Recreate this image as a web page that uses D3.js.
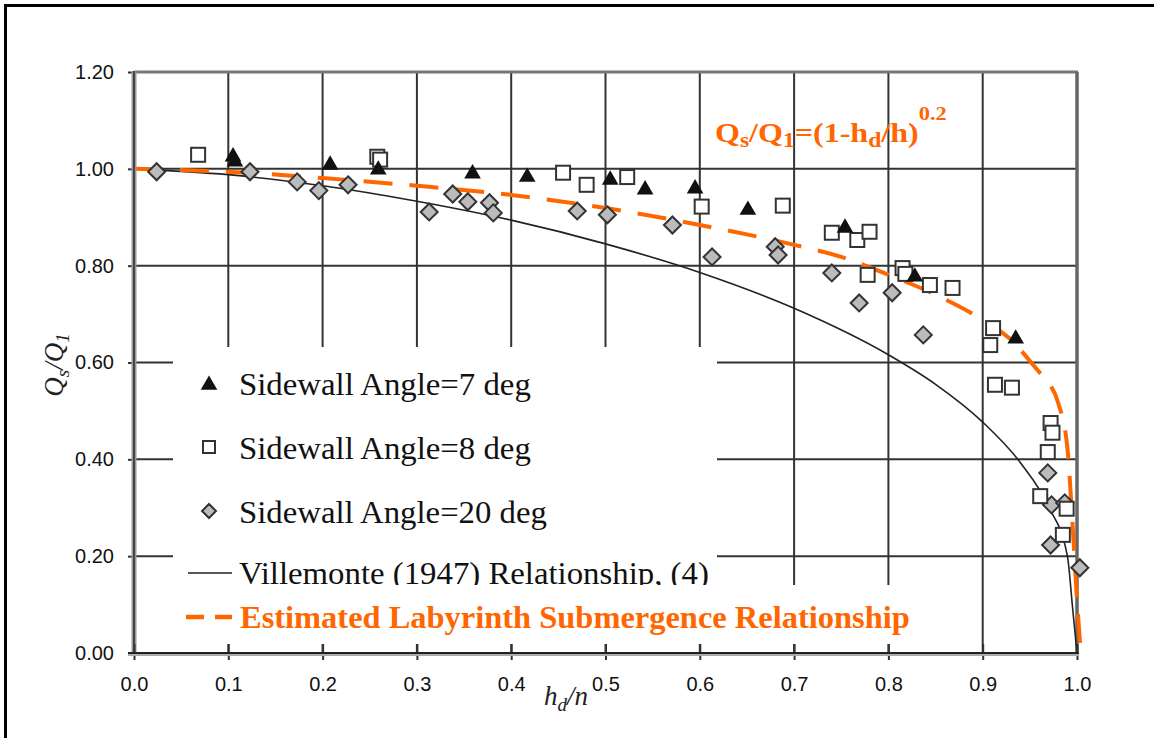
<!DOCTYPE html>
<html><head><meta charset="utf-8">
<script src="https://cdn.jsdelivr.net/npm/d3@7"></script>
<style>body{margin:0;background:#fff}svg{display:block}</style>
</head><body>
<svg id="c" width="1154" height="738"></svg>
<script>
// ---- data ----
const xTicks = [0, 0.1, 0.2, 0.3, 0.4, 0.5, 0.6, 0.7, 0.8, 0.9, 1.0];
const xTickLabels = ["0.0","0.1","0.2","0.3","0.4","0.5","0.6","0.7","0.8","0.9","1.0"];
const yTicks = [0, 0.2, 0.4, 0.6, 0.8, 1.0, 1.2];
const yTickLabels = ["0.00","0.20","0.40","0.60","0.80","1.00","1.20"];

const angle7X = [0.105, 0.107, 0.208, 0.259, 0.359, 0.417, 0.505, 0.542, 0.595, 0.651, 0.754, 0.828, 0.935];
const angle7Y = [1.025, 1.015, 1.008, 0.998, 0.990, 0.983, 0.977, 0.957, 0.959, 0.915, 0.878, 0.777, 0.649];

const angle8X = [0.068, 0.258, 0.261, 0.455, 0.480, 0.523, 0.602, 0.688, 0.740, 0.767, 0.780, 0.778, 0.815, 0.818, 0.844, 0.868, 0.911, 0.908, 0.913, 0.931, 0.972, 0.974, 0.969, 0.961, 0.989, 0.985];
const angle8Y = [1.029, 1.025, 1.019, 0.992, 0.967, 0.983, 0.922, 0.924, 0.868, 0.853, 0.870, 0.781, 0.795, 0.783, 0.760, 0.754, 0.671, 0.636, 0.554, 0.548, 0.475, 0.455, 0.415, 0.324, 0.298, 0.244];

const angle20X = [0.024, 0.123, 0.173, 0.196, 0.227, 0.313, 0.338, 0.354, 0.377, 0.381, 0.470, 0.502, 0.571, 0.613, 0.680, 0.683, 0.740, 0.769, 0.804, 0.837, 0.969, 0.973, 0.987, 0.972, 1.003];
const angle20Y = [0.994, 0.994, 0.973, 0.955, 0.967, 0.911, 0.948, 0.932, 0.930, 0.909, 0.913, 0.905, 0.884, 0.818, 0.839, 0.822, 0.785, 0.723, 0.744, 0.657, 0.372, 0.306, 0.310, 0.223, 0.176];

const villeX = [0, 0.1, 0.2, 0.3, 0.4, 0.5, 0.6, 0.7, 0.8, 0.85, 0.9, 0.94, 0.97, 0.99, 0.995, 1.0];
const villeY = [1.0, 0.988, 0.965, 0.933, 0.894, 0.845, 0.786, 0.712, 0.616, 0.555, 0.477, 0.393, 0.302, 0.198, 0.100, 0.0];

const estX = [0, 0.1, 0.2, 0.3, 0.4, 0.5, 0.6, 0.7, 0.75, 0.8, 0.85, 0.9, 0.93, 0.96, 0.97, 0.98, 0.99, 0.995, 1.0, 1.004];
const estY = [1.0, 0.994, 0.981, 0.965, 0.946, 0.919, 0.884, 0.843, 0.818, 0.781, 0.740, 0.688, 0.647, 0.580, 0.558, 0.517, 0.420, 0.275, 0.110, 0.0];

const legendLabels = ["Sidewall Angle=7 deg", "Sidewall Angle=8 deg", "Sidewall Angle=20 deg", "Villemonte (1947) Relationship, (4)"];
const estLabel = "Estimated Labyrinth Submergence Relationship";

// ---- drawing ----
const ORANGE = "#ff6600";
const svg = d3.select("#c");
const x = d3.scaleLinear([0, 1], [134, 1077]);
const y = d3.scaleLinear([0, 1.2], [653, 72]);
const zip = (a, b) => a.map((v, i) => [v, b[i]]);

function fit(sel, x0, x1) {
  const w = sel.node().getComputedTextLength();
  const s = (x1 - x0) / w;
  sel.attr("transform", `translate(${x0},0) scale(${s},1) translate(${-x0},0)`);
}

// outer frame
svg.append("line").attr("x1", 5.5).attr("x2", 5.5).attr("y1", 4).attr("y2", 738).attr("stroke", "#000").attr("stroke-width", 3);
svg.append("line").attr("x1", 4).attr("x2", 1154).attr("y1", 5.5).attr("y2", 5.5).attr("stroke", "#000").attr("stroke-width", 3);

// gridlines
const grid = svg.append("g");
grid.selectAll("line.v").data(xTicks.slice(1, -1)).join("line")
  .attr("x1", d => x(d)).attr("x2", d => x(d)).attr("y1", y(1.2)).attr("y2", y(0))
  .attr("stroke", "#333").attr("stroke-width", 2);
grid.selectAll("line.h").data(yTicks.slice(1, -1)).join("line")
  .attr("x1", x(0)).attr("x2", x(1)).attr("y1", d => y(d)).attr("y2", d => y(d))
  .attr("stroke", "#333").attr("stroke-width", 2);
// plot frame top/right
svg.append("line").attr("x1", x(0)).attr("x2", x(1) + 1).attr("y1", y(1.2)).attr("y2", y(1.2)).attr("stroke", "#777").attr("stroke-width", 3);
svg.append("line").attr("x1", x(1)).attr("x2", x(1)).attr("y1", y(1.2)).attr("y2", y(0)).attr("stroke", "#666").attr("stroke-width", 3.5);

// curves
const line = d3.line().x(d => x(d[0])).y(d => y(d[1])).curve(d3.curveMonotoneX);
svg.append("path").attr("d", line(zip(villeX, villeY))).attr("fill", "none").attr("stroke", "#222").attr("stroke-width", 1.6);
svg.append("path").attr("d", line(zip(estX, estY))).attr("fill", "none").attr("stroke", ORANGE).attr("stroke-width", 4).attr("stroke-dasharray", "29,17");

// markers
const tri = d3.symbol().type(d3.symbolTriangle).size(120);
const sq = (g, cx, cy, s) => g.append("rect").attr("x", cx - s / 2).attr("y", cy - s / 2).attr("width", s).attr("height", s).attr("fill", "#fff").attr("stroke", "#333").attr("stroke-width", 2);
const dia = (g, cx, cy, s) => g.append("path").attr("d", `M${cx},${cy - s}L${cx + s},${cy}L${cx},${cy + s}L${cx - s},${cy}Z`).attr("fill", "#bbb").attr("stroke", "#333").attr("stroke-width", 2);

const pts = svg.append("g");
zip(angle20X, angle20Y).forEach(d => dia(pts, x(d[0]), y(d[1]), 8.5));
zip(angle8X, angle8Y).forEach(d => sq(pts, x(d[0]), y(d[1]), 14));
pts.selectAll("path.t").data(zip(angle7X, angle7Y)).join("path")
  .attr("d", tri).attr("transform", d => `translate(${x(d[0])},${y(d[1])})`).attr("fill", "#111");

// legend boxes
svg.append("rect").attr("x", 173).attr("y", 347).attr("width", 544).attr("height", 238).attr("fill", "#fff");

const lg = svg.append("g").attr("font-family", "'Liberation Serif', 'Times New Roman', serif").attr("font-size", 31).attr("fill", "#111");
const rowBase = [395, 459, 523, 584];
lg.append("path").attr("d", tri).attr("transform", `translate(209,385)`).attr("fill", "#111");
sq(lg, 209, 447, 12);
dia(lg, 209, 511, 7);
lg.append("line").attr("x1", 188).attr("x2", 232).attr("y1", 573).attr("y2", 573).attr("stroke", "#222").attr("stroke-width", 1.6);
const legEnds = [531, 531, 547, 709];
legendLabels.forEach((t, i) => {
  const tx = lg.append("text").attr("x", 239).attr("y", rowBase[i]).text(t);
  fit(tx, 239, legEnds[i]);
});
// orange label box (covers bottom of the Villemonte row)
svg.append("rect").attr("x", 175).attr("y", 585).attr("width", 750).attr("height", 59).attr("fill", "#fff");
svg.append("line").attr("x1", 186).attr("x2", 204).attr("y1", 617).attr("y2", 617).attr("stroke", ORANGE).attr("stroke-width", 4.5);
svg.append("line").attr("x1", 215).attr("x2", 232).attr("y1", 617).attr("y2", 617).attr("stroke", ORANGE).attr("stroke-width", 4.5);
const et = svg.append("text").attr("x", 240).attr("y", 628)
  .attr("font-family", "'Liberation Serif', 'Times New Roman', serif").attr("font-weight", "bold")
  .attr("font-size", 32).attr("fill", ORANGE).text(estLabel);
fit(et, 240, 910);

// annotation
const an = svg.append("text").attr("x", 715).attr("y", 142)
  .attr("font-family", "'Liberation Serif', 'Times New Roman', serif").attr("font-weight", "bold")
  .attr("font-size", 27).attr("fill", ORANGE);
an.append("tspan").text("Q");
an.append("tspan").attr("font-size", 20).attr("dy", 5).text("s");
an.append("tspan").attr("dy", -5).text("/Q");
an.append("tspan").attr("font-size", 20).attr("dy", 5).text("1");
an.append("tspan").attr("dy", -5).text("=(1-h");
an.append("tspan").attr("font-size", 20).attr("dy", 5).text("d");
an.append("tspan").attr("dy", -5).text("/h)");
an.append("tspan").attr("font-size", 19).attr("dy", -22).text("0.2");
fit(an, 715, 947);

// axes
const axL = svg.append("g").attr("transform", `translate(${x(0)},0)`)
  .call(d3.axisLeft(y).tickValues(yTicks).tickFormat((d, i) => yTickLabels[i]).tickSize(6).tickPadding(14));
axL.select(".domain").remove();
axL.selectAll("line").attr("stroke", "#333").attr("stroke-width", 2);
axL.selectAll("text").attr("font-family", "'Liberation Sans', Arial, sans-serif").attr("font-size", 20).attr("fill", "#111");
svg.append("line").attr("x1", x(0)).attr("x2", x(0)).attr("y1", y(1.2) - 1).attr("y2", y(0) + 2).attr("stroke", "#999").attr("stroke-width", 5);
svg.append("line").attr("x1", x(0)).attr("x2", x(0)).attr("y1", y(1.2) - 1).attr("y2", y(0) + 2).attr("stroke", "#444").attr("stroke-width", 2);

const axB = svg.append("g").attr("transform", `translate(0,${y(0)})`)
  .call(d3.axisBottom(x).tickValues(xTicks).tickFormat((d, i) => xTickLabels[i]).tickSize(7).tickPadding(17));
axB.select(".domain").remove();
axB.selectAll("line").attr("stroke", "#333").attr("stroke-width", 2).attr("y1", -9);
axB.selectAll("text").attr("font-family", "'Liberation Sans', Arial, sans-serif").attr("font-size", 20).attr("fill", "#111");
svg.append("line").attr("x1", x(0) - 6).attr("x2", x(1) + 2).attr("y1", y(0) + 1.5).attr("y2", y(0) + 1.5).attr("stroke", "#aaa").attr("stroke-width", 3);
svg.append("line").attr("x1", x(0) - 6).attr("x2", x(1) + 2).attr("y1", y(0)).attr("y2", y(0)).attr("stroke", "#222").attr("stroke-width", 2);

// axis titles
const xt = svg.append("text").attr("x", 544).attr("y", 705)
  .attr("font-family", "'Liberation Serif', 'Times New Roman', serif").attr("font-style", "italic")
  .attr("font-size", 27).attr("fill", "#222");
xt.append("tspan").text("h");
xt.append("tspan").attr("font-size", 19).attr("dy", 6).text("d");
xt.append("tspan").attr("dy", -6).text("/n");

const yt = svg.append("text").attr("transform", "translate(63,365) rotate(-90)").attr("text-anchor", "middle")
  .attr("font-family", "'Liberation Serif', 'Times New Roman', serif").attr("font-style", "italic")
  .attr("font-size", 27).attr("fill", "#222");
yt.append("tspan").text("Q");
yt.append("tspan").attr("font-size", 19).attr("dy", 6).text("s");
yt.append("tspan").attr("dy", -6).text("/Q");
yt.append("tspan").attr("font-size", 19).attr("dy", 6).text("1");
</script>
</body></html>
